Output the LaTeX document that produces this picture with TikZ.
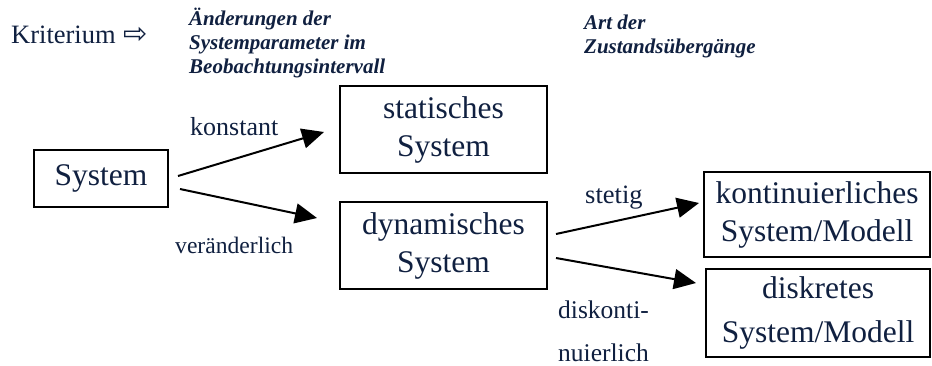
\documentclass[tikz,border=0pt]{standalone}
\usepackage{fontspec}
\setmainfont{Liberation Serif}
\newfontfamily\dejavu{DejaVu Sans}
\usetikzlibrary{arrows.meta}
\definecolor{navy}{RGB}{16,32,64}
\begin{document}
\begin{tikzpicture}[x=1pt,y=-1pt,
  box/.style={draw=black,line width=2pt,inner sep=0pt,align=center,text=navy,font=\fontsize{31.5}{38}\selectfont},
  lbl/.style={text=navy,inner sep=0pt,anchor=base west},
  head/.style={lbl,font=\bfseries\itshape\fontsize{21}{24}\selectfont},
  arr/.style={line width=2pt,-{Triangle[length=22pt,width=20pt]}}]
\useasboundingbox[fill=white] (0,0) rectangle (932,365);
% boxes
\node[box,minimum width=134pt,minimum height=57pt] (sys) at (101,178.5) {System};
\node[box,minimum width=207pt,minimum height=87pt] (stat) at (443.5,129.5) {statisches\\System};
\node[box,minimum width=207pt,minimum height=87pt] (dyn) at (443.5,245.5) {dynamisches\\System};
\node[box,minimum width=226pt,minimum height=85pt] (kont) at (817,214.5) {kontinuierliches\\System/Modell};
\node[box,minimum width=224pt,minimum height=88pt,font=\fontsize{31.5}{44}\selectfont] (disk) at (818,313) {diskretes\\System/Modell};
% arrows
\draw[arr] ([shift={(9,-2.5)}]sys.east) -- ([shift={(-15,2.5)}]stat.west);
\draw[arr] ([shift={(11,10.5)}]sys.east) -- ([shift={(-22,-27.5)}]dyn.west);
\draw[arr] ([shift={(8,-11.5)}]dyn.east) -- ([shift={(-4,-11.5)}]kont.west);
\draw[arr] ([shift={(8,12.5)}]dyn.east) -- ([shift={(-9,-30)}]disk.west);
% labels
\node[lbl,font=\fontsize{26.5}{30}\selectfont] (krit) at (11,43) {Kriterium\hspace{8pt}{\dejavu\fontsize{29}{32}\selectfont ⇨}};
\node[head] (h1) at (189,25.7) {\begin{tabular}[t]{@{}l@{}}Änderungen der\\Systemparameter im\\Beobachtungsintervall\end{tabular}};
\node[head] (h2) at (584,29) {\begin{tabular}[t]{@{}l@{}}Art der\\Zustandsübergänge\end{tabular}};
\node[lbl,font=\fontsize{26}{30}\selectfont] (konst) at (190,135) {konstant};
\node[lbl,font=\fontsize{23.6}{28}\selectfont] (ver) at (175,253) {veränderlich};
\node[lbl,font=\fontsize{26.5}{30}\selectfont] (stet) at (585,203) {stetig};
\node[lbl,font=\fontsize{25.5}{43}\selectfont] (disko) at (558,318) {\begin{tabular}[t]{@{}l@{}}diskonti-\\nuierlich\end{tabular}};
\end{tikzpicture}
\end{document}
